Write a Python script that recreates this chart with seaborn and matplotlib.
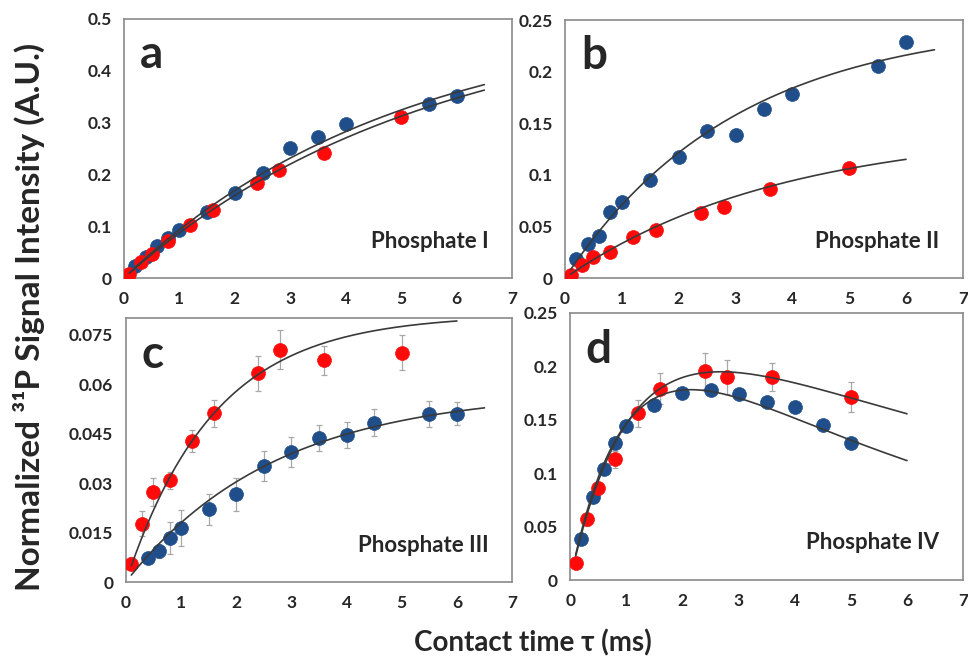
import numpy as np
import matplotlib
matplotlib.use('Agg')
import matplotlib.pyplot as plt
import seaborn as sns

# Contact times (ms)
t_blue = [0.2, 0.4, 0.6, 0.8, 1.0, 1.5, 2.0, 2.5, 3.0, 3.5, 4.0, 5.5, 6.0]
t_red = [0.1, 0.3, 0.5, 0.8, 1.2, 1.6, 2.4, 2.8, 3.6, 5.0]
t_blue_c = [0.4, 0.6, 0.8, 1.0, 1.5, 2.0, 2.5, 3.0, 3.5, 4.0, 4.5, 5.5, 6.0]
t_blue_d = [0.2, 0.4, 0.6, 0.8, 1.0, 1.5, 2.0, 2.5, 3.0, 3.5, 4.0, 4.5, 5.0]

# Panel a - Phosphate I
a_blue = [0.024, 0.040, 0.061, 0.078, 0.093, 0.128, 0.164, 0.203, 0.251, 0.273, 0.298, 0.336, 0.352]
a_red = [0.008, 0.030, 0.047, 0.072, 0.103, 0.131, 0.183, 0.208, 0.242, 0.311]

# Panel b - Phosphate II
b_blue = [0.018, 0.033, 0.041, 0.064, 0.0735, 0.095, 0.117, 0.143, 0.139, 0.164, 0.178, 0.206, 0.229]
b_red = [0.003, 0.013, 0.020, 0.025, 0.040, 0.047, 0.063, 0.069, 0.0865, 0.107]

# Panel c - Phosphate III (with error bars)
c_blue = [0.0074, 0.0094, 0.0133, 0.0163, 0.0220, 0.0266, 0.0351, 0.0394, 0.0437, 0.0445, 0.0483, 0.0510, 0.0510]
c_blue_err = [0.0015, 0.002, 0.0049, 0.0055, 0.0047, 0.005, 0.0045, 0.0045, 0.004, 0.004, 0.0042, 0.004, 0.0035]
c_red = [0.0056, 0.0177, 0.0273, 0.0308, 0.0428, 0.0512, 0.0632, 0.0704, 0.0672, 0.0694]
c_red_err = [0.002, 0.0037, 0.0043, 0.0025, 0.0034, 0.0041, 0.0054, 0.0059, 0.0044, 0.0053]

# Panel d - Phosphate IV
d_blue = [0.038, 0.0773, 0.1035, 0.1287, 0.144, 0.1643, 0.1755, 0.1777, 0.1746, 0.1668, 0.162, 0.145, 0.1287]
d_red = [0.0162, 0.0567, 0.0857, 0.1132, 0.1559, 0.1792, 0.1954, 0.1901, 0.1901, 0.1714]
d_red_err = [0.004, 0.006, 0.006, 0.008, 0.0125, 0.0146, 0.017, 0.0156, 0.0134, 0.014]

# CP fit parameters: amplitude, T_cp, T1rho, t_end
fit_a_blue = [0.513, 5.0, np.inf, 6.5]
fit_a_red = [0.523, 5.5, np.inf, 6.5]
fit_b_blue = [0.25, 3.0, np.inf, 6.5]
fit_b_red = [0.145, 3.8, np.inf, 6.0]
fit_c_blue = [0.058, 2.7, np.inf, 6.5]
fit_c_red = [0.081, 1.6, np.inf, 6.0]
fit_d_blue = [0.306, 1.2, 6.0, 6.0]
fit_d_red = [0.2855, 1.2, 10.0, 6.0]

BLUE = '#1f4e8a'
RED = '#ff0a0a'
GREY = '#8a8a8a'

sns.set_style('white')
plt.rcParams['font.family'] = ['Lato', 'DejaVu Sans']
plt.rcParams['font.weight'] = 'bold'


def cp_curve(fit):
    amp, tcp, t1, t_end = fit
    t = np.linspace(0.1, t_end, 200)
    return t, amp * (1 - np.exp(-t / tcp)) * np.exp(-t / t1)


def draw_panel(ax, letter, name, tb, yb, tr, yr, fb, fr, ymax, ystep, eb=None, er=None):
    if eb is not None:
        ax.errorbar(tb, yb, yerr=eb, fmt='none', ecolor='#a8a8a8', elinewidth=0.9,
                    capsize=2, capthick=0.9, zorder=1)
    if er is not None:
        ax.errorbar(tr, yr, yerr=er, fmt='none', ecolor='#a8a8a8', elinewidth=0.9,
                    capsize=2, capthick=0.9, zorder=1)
    sns.scatterplot(x=tb, y=yb, color=BLUE, s=100, edgecolor=BLUE, linewidth=0.5, ax=ax, zorder=2)
    sns.scatterplot(x=tr, y=yr, color=RED, s=100, edgecolor=RED, linewidth=0.5, ax=ax, zorder=3)
    for fit in (fb, fr):
        x, y = cp_curve(fit)
        sns.lineplot(x=x, y=y, color='#3a3a3a', linewidth=1.2, ax=ax, zorder=4, sort=False)

    ax.set_xlim(0, 7)
    ax.set_ylim(0, ymax)
    ax.set_xticks(range(8))
    yt = np.round(np.arange(0, ymax + 1e-9, ystep), 4)
    ax.set_yticks(yt)
    ax.set_yticklabels([f'{v:g}' for v in yt])
    ax.tick_params(axis='both', direction='out', length=4, width=1, color=GREY,
                   labelsize=12.5, pad=5)
    for lab in ax.get_xticklabels() + ax.get_yticklabels():
        lab.set_fontweight('bold')
    for sp in ax.spines.values():
        sp.set_color(GREY)
        sp.set_linewidth(1.2)
    ax.set_xlabel('')
    ax.set_ylabel('')
    ax.text(0.04, 0.86, letter, transform=ax.transAxes, fontsize=33, fontweight='bold',
            ha='left', va='center')
    ax.text(0.94, 0.14, name, transform=ax.transAxes, fontsize=16, fontweight='bold',
            ha='right', va='center')


fig = plt.figure(figsize=(9.68, 6.61), dpi=100)
ax_a = fig.add_axes([0.128, 0.5794, 0.401, 0.392])
ax_b = fig.add_axes([0.5837, 0.5794, 0.411, 0.390])
ax_c = fig.add_axes([0.130, 0.1195, 0.399, 0.3994])
ax_d = fig.add_axes([0.589, 0.1225, 0.406, 0.404])

draw_panel(ax_a, 'a', 'Phosphate I', t_blue, a_blue, t_red, a_red,
           fit_a_blue, fit_a_red, 0.5, 0.1)
draw_panel(ax_b, 'b', 'Phosphate II', t_blue, b_blue, t_red, b_red,
           fit_b_blue, fit_b_red, 0.25, 0.05)
draw_panel(ax_c, 'c', 'Phosphate III', t_blue_c, c_blue, t_red, c_red,
           fit_c_blue, fit_c_red, 0.08, 0.015, eb=c_blue_err, er=c_red_err)
draw_panel(ax_d, 'd', 'Phosphate IV', t_blue_d, d_blue, t_red, d_red,
           fit_d_blue, fit_d_red, 0.25, 0.05, er=d_red_err)

fig.text(0.03, 0.52, 'Normalized ³¹P Signal Intensity (A.U.)', rotation=90,
         fontsize=24, fontweight='bold', ha='center', va='center')
fig.text(0.551, 0.027, 'Contact time τ (ms)', fontsize=20, fontweight='bold',
         ha='center', va='center')

plt.savefig('out.png', dpi=100)
